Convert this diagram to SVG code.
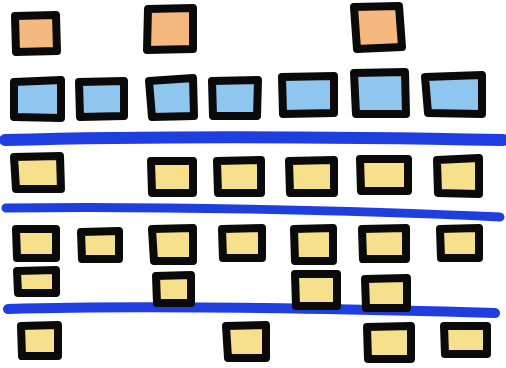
<svg xmlns="http://www.w3.org/2000/svg" width="506" height="368" viewBox="0 0 506 368">
<style>
.n{stroke:#0a0a0a;stroke-width:8;stroke-linejoin:round}
.o{fill:#F5B97F}
.b{fill:#8FC6EF}
.y{fill:#F7E08B}
.lane{fill:none;stroke:#1F3EDF;stroke-linecap:round}
</style>
<rect width="506" height="368" fill="#ffffff"/>
<g id="lanes">
<path class="lane" stroke-width="12" d="M5,140 C150,136 350,137 503,140"/>
<path class="lane" stroke-width="9" d="M6,208 C150,206 350,210 500,217"/>
<path class="lane" stroke-width="10" d="M8,309 C150,305 350,309 495,313"/>
</g>
<g id="O1"><polygon class="n o" points="15,16 56,15 57,51 16,52"/></g>
<g id="O2"><polygon class="n o" points="148,9 193,8 193,49 147,50"/></g>
<g id="O3"><polygon class="n o" points="354,7 399,6 402,47 357,49"/></g>
<g id="B1"><polygon class="n b" points="14,82 61,80 61,118 14,117"/></g>
<g id="B2"><polygon class="n b" points="79,82 124,81 124,116 80,117"/></g>
<g id="B3"><polygon class="n b" points="149,81 193,78 194,116 152,117"/></g>
<g id="B4"><polygon class="n b" points="212,81 258,80 257,116 213,116"/></g>
<g id="B5"><polygon class="n b" points="282,77 334,76 334,113 283,114"/></g>
<g id="B6"><polygon class="n b" points="354,73 405,72 406,114 356,114"/></g>
<g id="B7"><polygon class="n b" points="425,77 482,75 482,114 428,113"/></g>
<g id="Y1"><polygon class="n y" points="14,157 60,156 61,189 16,189"/></g>
<g id="Y2"><polygon class="n y" points="151,161 193,161 193,193 152,193"/></g>
<g id="Y3"><polygon class="n y" points="217,161 261,160 261,193 218,193"/></g>
<g id="Y4"><polygon class="n y" points="289,161 334,160 334,193 290,193"/></g>
<g id="Y5"><polygon class="n y" points="360,159 408,159 408,191 361,191"/></g>
<g id="Y6"><polygon class="n y" points="437,160 479,158 479,194 438,193"/></g>
<g id="Y7"><polygon class="n y" points="16,229 56,229 56,258 17,258"/></g>
<g id="Y8"><polygon class="n y" points="81,232 119,231 119,259 82,259"/></g>
<g id="Y9"><polygon class="n y" points="152,229 193,228 193,261 154,261"/></g>
<g id="Y10"><polygon class="n y" points="222,229 262,228 262,258 223,258"/></g>
<g id="Y11"><polygon class="n y" points="294,229 333,228 333,261 295,261"/></g>
<g id="Y12"><polygon class="n y" points="362,229 406,228 406,259 363,259"/></g>
<g id="Y13"><polygon class="n y" points="440,229 479,228 479,258 441,258"/></g>
<g id="Y14"><polygon class="n y" points="17,271 56,270 56,293 18,293"/></g>
<g id="Y15"><polygon class="n y" points="156,276 191,275 191,303 157,303"/></g>
<g id="Y16"><polygon class="n y" points="295,274 337,274 337,306 296,306"/></g>
<g id="Y17"><polygon class="n y" points="365,279 407,278 407,308 366,308"/></g>
<g id="Y18"><polygon class="n y" points="21,326 58,325 58,356 22,356"/></g>
<g id="Y19"><polygon class="n y" points="226,326 266,325 266,358 228,358"/></g>
<g id="Y20"><polygon class="n y" points="367,327 411,326 411,359 368,359"/></g>
<g id="Y21"><polygon class="n y" points="444,326 487,326 487,354 445,354"/></g>
</svg>
